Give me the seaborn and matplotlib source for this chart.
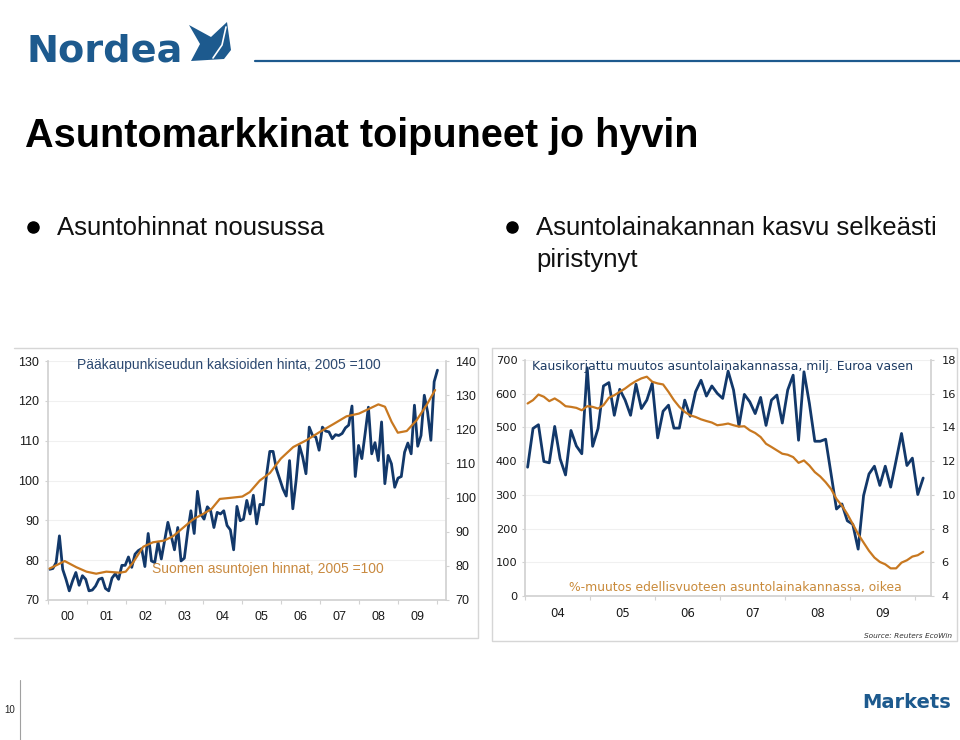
import numpy as np
import pandas as pd
import matplotlib
matplotlib.use("Agg")
import matplotlib.pyplot as plt
import seaborn as sns
from matplotlib.patches import Polygon
from matplotlib.lines import Line2D

# ---------------- data ----------------
# Left chart: Helsinki-region two-room flat prices (left axis), monthly
kaksio_hinta = [77.7, 77.9, 79.4, 86.1, 77.7, 75.2, 72.3, 74.8, 76.9, 73.7, 76.1, 75.2,
                72.3, 72.5, 73.5, 75.2, 75.5, 72.9, 72.3, 75.5, 76.6, 75.2, 78.7, 78.7,
                80.8, 78.2, 81.5, 82.4, 82.9, 78.4, 86.7, 79.8, 79.4, 84.5, 80.3, 84.9,
                89.5, 86.1, 82.6, 88.2, 79.8, 80.5, 87.0, 92.4, 86.7, 97.3, 91.6, 90.3,
                93.4, 92.4, 88.2, 92.0, 91.6, 92.4, 88.7, 87.6, 82.6, 93.5, 89.9, 90.3,
                95.0, 91.6, 96.3, 89.1, 94.0, 93.9, 101.3, 107.3, 107.3, 102.9, 100.4, 97.9,
                96.1, 105.0, 92.9, 100.0, 108.8, 105.9, 101.7, 113.4, 111.3, 110.9, 107.6, 113.4,
                112.4, 112.2, 110.5, 111.5, 111.3, 111.8, 113.2, 113.9, 118.7, 101.0, 108.8, 105.5,
                111.8, 118.4, 106.7, 109.5, 105.0, 114.7, 99.2, 106.3, 104.2, 98.3, 100.6, 101.0,
                107.1, 109.4, 106.7, 118.9, 108.6, 111.3, 121.4, 117.2, 110.1, 124.8, 127.7]
kaksio_alku, kaksio_loppu = 2000.04, 2010.02

# Finnish house prices (right axis), read at these decimal years
suomi_vuosi = [2000.04, 2000.43, 2000.73, 2000.99, 2001.24, 2001.50, 2001.85, 2002.00,
               2002.19, 2002.45, 2002.70, 2002.99, 2003.22, 2003.48, 2003.73, 2003.99,
               2004.21, 2004.42, 2004.68, 2005.00, 2005.19, 2005.45, 2005.71, 2005.99,
               2006.31, 2006.65, 2006.99, 2007.34, 2007.68, 2008.00, 2008.28, 2008.50,
               2008.67, 2008.84, 2009.00, 2009.23, 2009.48, 2009.74, 2009.96]
suomi_hinta = [79.2, 81.4, 79.6, 78.3, 77.7, 78.3, 78.0, 78.3,
               81.0, 85.6, 86.9, 87.4, 88.7, 91.2, 93.6, 95.2,
               96.7, 99.6, 99.9, 100.3, 101.6, 105.0, 107.2, 111.4,
               114.8, 116.8, 119.2, 121.5, 123.8, 124.6, 126.1, 127.3,
               126.6, 122.2, 119.0, 119.5, 122.6, 127.1, 131.5]

# Right chart: seasonally adjusted change in housing loan stock (EUR m, left axis)
laina_muutos = [382, 497, 508, 399, 395, 503, 407, 359, 491, 445, 422, 677,
                444, 497, 623, 633, 536, 613, 581, 536, 628, 556, 581, 631,
                469, 548, 566, 498, 498, 581, 533, 606, 640, 593, 623, 601,
                586, 667, 611, 504, 598, 576, 541, 589, 506, 581, 596, 513,
                611, 655, 462, 665, 571, 459, 459, 465, 362, 258, 273, 223,
                213, 139, 298, 362, 385, 328, 385, 323, 402, 482, 387, 409,
                301, 350]
# Annual % change in housing loan stock (right axis)
laina_kasvu = [15.42, 15.62, 15.95, 15.82, 15.56, 15.72, 15.52, 15.26, 15.22, 15.16, 15.02, 15.26,
               15.22, 15.12, 15.32, 15.76, 15.91, 16.11, 16.31, 16.55, 16.75, 16.91, 17.01, 16.71,
               16.61, 16.55, 16.11, 15.62, 15.22, 14.92, 14.72, 14.62, 14.48, 14.38, 14.29, 14.13,
               14.17, 14.23, 14.13, 14.05, 14.07, 13.83, 13.67, 13.43, 13.03, 12.84, 12.64, 12.44,
               12.38, 12.24, 11.90, 12.04, 11.74, 11.35, 11.09, 10.75, 10.35, 9.76, 9.36, 8.86,
               8.27, 7.67, 7.17, 6.68, 6.28, 6.02, 5.88, 5.64, 5.64, 5.98, 6.12, 6.34,
               6.42, 6.62]
laina_alku, laina_loppu = 2004.04, 2010.12

vuodet_vasen = ["00", "01", "02", "03", "04", "05", "06", "07", "08", "09"]
vuodet_oikea = ["04", "05", "06", "07", "08", "09"]
vasen_y1 = [70, 80, 90, 100, 110, 120, 130]
vasen_y2 = [70, 80, 90, 100, 110, 120, 130, 140]
oikea_y1 = [0, 100, 200, 300, 400, 500, 600, 700]
oikea_y2 = [4, 6, 8, 10, 12, 14, 16, 18]

# ---------------- styling ----------------
sns.set_theme(style="white")
plt.rcParams['font.family'] = ['Liberation Sans', 'DejaVu Sans']

W, H = 960, 740
fig = plt.figure(figsize=(W / 100, H / 100), dpi=100)
fig.patch.set_facecolor("white")

def fx(px):
    return px / W

def fy(py):
    return 1 - py / H

NAVY = "#12386a"
ORANGE = "#c87820"
BRAND = "#1d5a8e"
GRID = "#f0f0f0"
SPINE = "#d2d2d2"
FRAME = "#d6d6d6"

def fig_line(xs, ys, **kw):
    fig.add_artist(Line2D([fx(v) for v in xs], [fy(v) for v in ys],
                          transform=fig.transFigure, **kw))

# ---------------- header ----------------
fig.text(fx(27), fy(61), "Nordea", fontsize=27.5, fontweight="bold", color=BRAND,
         family="DejaVu Sans", va="baseline", ha="left")
fig.add_artist(Polygon([(fx(189), fy(25)), (fx(211), fy(37)), (fx(227), fy(22)),
                        (fx(231), fy(50)), (fx(224), fy(59)), (fx(191), fy(61)), (fx(200), fy(44))],
                       closed=True, transform=fig.transFigure, fc=BRAND, ec="none"))
fig_line([213, 222, 226], [58, 45, 27], color="white", lw=1.2)
fig_line([255, 960], [61, 61], color=BRAND, lw=1.6)

fig.text(fx(25), fy(147), "Asuntomarkkinat toipuneet jo hyvin", fontsize=28.5,
         fontweight="bold", color="black", va="baseline", ha="left")

for bx in (33, 512):
    fig.add_artist(Line2D([fx(bx)], [fy(227)], transform=fig.transFigure, marker="o",
                          ms=8, color="black", lw=0))
fig.text(fx(57), fy(235), "Asuntohinnat nousussa", fontsize=18.5, color="#111111",
         va="baseline", ha="left")
fig.text(fx(536), fy(235), "Asuntolainakannan kasvu selkeästi", fontsize=18.5,
         color="#111111", va="baseline", ha="left")
fig.text(fx(536), fy(267), "piristynyt", fontsize=18.5, color="#111111",
         va="baseline", ha="left")

# panel frames (left panel: open on the left side)
fig_line([14, 478, 478, 14], [348, 348, 638, 638], color=FRAME, lw=1)
fig_line([492, 957, 957, 492, 492], [348, 348, 641, 641, 348], color=FRAME, lw=1)

# ---------------- left chart ----------------
ax1 = fig.add_axes([fx(48), fy(600), (446 - 48) / W, (600 - 361) / H])
ax1b = ax1.twinx()

df_k = pd.DataFrame({"vuosi": np.linspace(kaksio_alku, kaksio_loppu, len(kaksio_hinta)),
                     "hinta": kaksio_hinta})
df_s = pd.DataFrame({"vuosi": suomi_vuosi, "hinta": suomi_hinta})
sns.lineplot(data=df_k, x="vuosi", y="hinta", ax=ax1, color=NAVY, lw=2.0)
sns.lineplot(data=df_s, x="vuosi", y="hinta", ax=ax1b, color=ORANGE, lw=1.6)

for ax, lo, hi, ticks in ((ax1, 70, 130, vasen_y1), (ax1b, 70, 140, vasen_y2)):
    ax.set_ylim(lo, hi)
    ax.set_yticks(ticks)
    ax.set_xlim(2000.0, 2010.24)
    ax.set_xlabel("")
    ax.set_ylabel("")
ax1.set_yticklabels([str(t) for t in vasen_y1])
ax1b.set_yticklabels([str(t) for t in vasen_y2])
ax1.grid(axis="y", color=GRID, lw=0.8)
ax1.grid(axis="x", visible=False)
ax1b.grid(False)
ax1.set_xticks([2000.5 + i for i in range(len(vuodet_vasen))])
ax1.set_xticklabels(vuodet_vasen)
ax1.set_xticks(list(range(2000, 2011)), minor=True)
ax1.tick_params(axis="x", which="major", length=0, pad=8, labelsize=9, labelcolor="#1a1a1a")
ax1.tick_params(axis="x", which="minor", length=3, width=0.8, color=SPINE, direction="out", bottom=True)
ax1.tick_params(axis="y", length=2.5, width=0.8, color=SPINE, pad=4, labelsize=9,
                labelcolor="#1a1a1a", left=True)
ax1b.tick_params(axis="y", length=2.5, width=0.8, color=SPINE, pad=4, labelsize=9,
                 labelcolor="#1a1a1a", right=True)
for sp in ("top", "right"):
    ax1.spines[sp].set_visible(False)
for sp in ("top", "left", "bottom"):
    ax1b.spines[sp].set_visible(False)
for sp in ("left", "bottom"):
    ax1.spines[sp].set_color(SPINE)
ax1b.spines["right"].set_color(SPINE)

fig.text(fx(77), fy(369), "Pääkaupunkiseudun kaksioiden hinta, 2005 =100", fontsize=10,
         color="#2b4870", va="baseline", ha="left")
fig.text(fx(152), fy(573), "Suomen asuntojen hinnat, 2005 =100", fontsize=10,
         color="#c98a40", va="baseline", ha="left")

# ---------------- right chart ----------------
ax2 = fig.add_axes([fx(525), fy(596), (931 - 525) / W, (596 - 360) / H])
ax2b = ax2.twinx()

df_m = pd.DataFrame({"vuosi": np.linspace(laina_alku, laina_loppu, len(laina_muutos)),
                     "muutos": laina_muutos})
df_g = pd.DataFrame({"vuosi": np.linspace(laina_alku, laina_loppu, len(laina_kasvu)),
                     "kasvu": laina_kasvu})
sns.lineplot(data=df_m, x="vuosi", y="muutos", ax=ax2, color=NAVY, lw=2.0)
sns.lineplot(data=df_g, x="vuosi", y="kasvu", ax=ax2b, color=ORANGE, lw=1.6)

ax2.set_ylim(0, 700)
ax2.set_yticks(oikea_y1)
ax2.set_yticklabels([str(t) for t in oikea_y1], family="DejaVu Sans")
ax2b.set_ylim(4, 18)
ax2b.set_yticks(oikea_y2)
ax2b.set_yticklabels([str(t) for t in oikea_y2], family="DejaVu Sans")
for ax in (ax2, ax2b):
    ax.set_xlim(2004.0, 2010.24)
    ax.set_xlabel("")
    ax.set_ylabel("")
ax2.grid(axis="y", color=GRID, lw=0.8)
ax2.grid(axis="x", visible=False)
ax2b.grid(False)
ax2.set_xticks([2004.5 + i for i in range(len(vuodet_oikea))])
ax2.set_xticklabels(vuodet_oikea, family="DejaVu Sans")
ax2.set_xticks(list(range(2004, 2011)), minor=True)
ax2.tick_params(axis="x", which="major", length=0, pad=8, labelsize=8.5, labelcolor="#1a1a1a")
ax2.tick_params(axis="x", which="minor", length=3, width=0.8, color=SPINE, direction="out", bottom=True)
ax2.tick_params(axis="y", length=2.5, width=0.8, color=SPINE, pad=3, labelsize=8.2,
                labelcolor="#1a1a1a", left=True)
ax2b.tick_params(axis="y", length=2.5, width=0.8, color=SPINE, pad=5, labelsize=8.2,
                 labelcolor="#1a1a1a", right=True)
for sp in ("top", "right"):
    ax2.spines[sp].set_visible(False)
for sp in ("top", "left", "bottom"):
    ax2b.spines[sp].set_visible(False)
for sp in ("left", "bottom"):
    ax2.spines[sp].set_color(SPINE)
ax2b.spines["right"].set_color(SPINE)

fig.text(fx(532), fy(370), "Kausikorjattu muutos asuntolainakannassa, milj. Euroa vasen",
         fontsize=8.9, family="DejaVu Sans", color="#1d3b63", va="baseline", ha="left")
fig.text(fx(569), fy(591), "%-muutos edellisvuoteen asuntolainakannassa, oikea",
         fontsize=8.9, family="DejaVu Sans", color="#c98a3a", va="baseline", ha="left")
fig.text(fx(952), fy(638), "Source: Reuters EcoWin", fontsize=5.3, family="DejaVu Sans",
         style="italic", color="#333333", va="baseline", ha="right")

# ---------------- footer ----------------
fig_line([20, 20], [680, 740], color="#a0a0a0", lw=0.8)
fig.text(fx(4), fy(713), "10", fontsize=7, color="#222222", va="baseline", ha="left")
fig.text(fx(951), fy(708), "Markets", fontsize=14, fontweight="bold", family="DejaVu Sans",
         color=BRAND, va="baseline", ha="right")

fig.savefig("out.png", dpi=100)
